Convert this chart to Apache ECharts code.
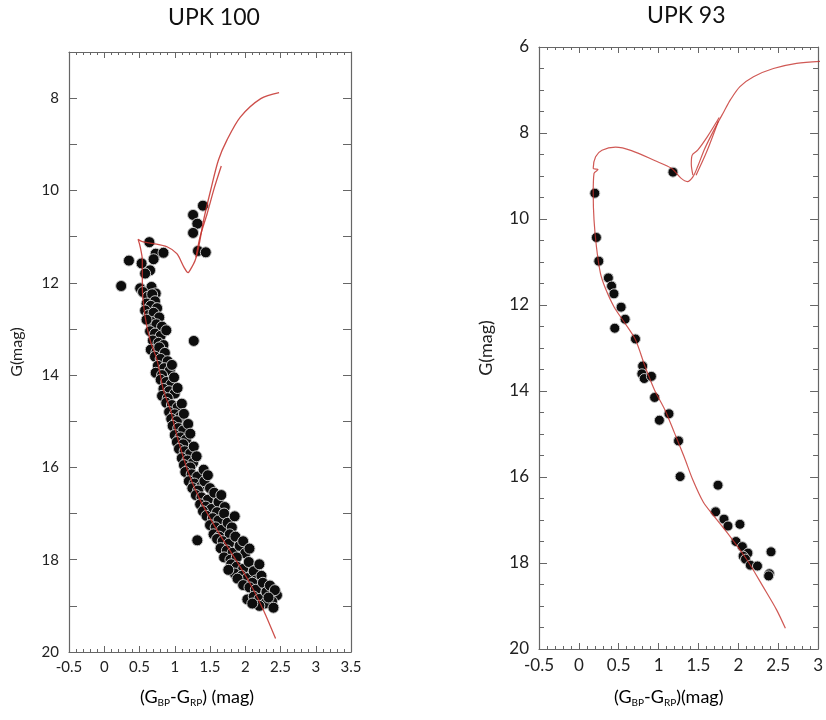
<!DOCTYPE html>
<html><head><meta charset="utf-8">
<script src="https://cdn.jsdelivr.net/npm/echarts@6/dist/echarts.min.js"></script>
<style>html,body{margin:0;padding:0;background:#fff}#c{width:826px;height:720px}</style>
</head><body><div id="c"></div>
<script>
// ---------- DATA ----------
const titles = ['UPK 100', 'UPK 93'];
const leftXTicks = [-0.5, 3.5];
const rightXTicks = [-0.5, 3];
const leftYRange = [7, 20];
const rightYRange = [6, 20];

// UPK 100 member stars [colour, G]
const upk100Stars = [
  [1.40,10.33],[1.26,10.53],[1.32,10.72],[1.26,10.92],[1.33,11.31],[1.44,11.34],
  [0.64,11.12],[0.35,11.52],[0.53,11.58],[0.73,11.37],[0.84,11.35],[0.70,11.49],
  [0.65,11.73],[0.58,11.80],[0.24,12.07],[0.51,12.12],[0.67,12.09],[0.73,12.23],
  [0.55,12.20],[0.62,12.30],[0.68,12.25],[0.72,12.40],[0.60,12.45],[0.66,12.50],[0.75,12.55],
  [0.58,12.60],[0.63,12.70],[0.70,12.65],[0.78,12.75],[0.67,12.85],[0.74,12.90],[0.82,12.95],[0.60,12.80],
  [0.65,13.05],[0.72,13.10],[0.80,13.15],[0.88,13.03],[0.69,13.25],[0.77,13.30],[0.84,13.35],[0.66,13.45],[0.74,13.50],
  [0.78,13.40],[0.86,13.52],
  [1.27,13.26],
  [0.72,13.60],[0.80,13.65],[0.90,13.70],[0.76,13.80],[0.85,13.85],[0.93,13.90],[0.73,13.95],[0.82,14.00],[0.96,13.78],
  [0.80,14.10],[0.88,14.15],[0.95,14.20],[0.84,14.30],[0.92,14.35],[1.00,14.40],[0.82,14.45],[0.90,14.50],[0.99,14.05],[1.04,14.28],
  [0.88,14.60],[0.96,14.65],[1.04,14.70],[0.92,14.80],[1.00,14.85],[1.08,14.90],[0.95,14.95],[1.03,15.00],[1.10,14.62],[1.13,14.84],
  [0.97,15.10],[1.05,15.15],[1.12,15.20],[1.00,15.30],[1.08,15.35],[1.16,15.40],[1.03,15.45],[1.12,15.50],[1.19,15.06],[1.22,15.27],
  [1.06,15.60],[1.14,15.65],[1.22,15.70],[1.10,15.80],[1.18,15.85],[1.26,15.90],[1.13,15.95],[1.22,16.00],[1.27,15.55],[1.31,15.76],
  [1.15,16.10],[1.24,16.15],[1.32,16.20],[1.20,16.30],[1.28,16.35],[1.38,16.40],[1.25,16.45],[1.33,16.50],[1.42,16.30],
  [1.41,16.05],[1.47,16.17],[1.50,16.45],
  [1.30,16.60],[1.38,16.65],[1.47,16.70],[1.56,16.55],[1.36,16.80],[1.44,16.85],[1.52,16.90],[1.62,16.75],[1.40,16.95],
  [1.66,16.60],[1.71,16.86],[1.60,16.97],
  [1.45,17.05],[1.54,17.10],[1.62,17.15],[1.70,17.00],[1.50,17.25],[1.58,17.30],[1.67,17.35],[1.75,17.20],[1.55,17.45],
  [1.81,17.30],[1.85,17.06],[1.78,17.45],[1.63,17.50],
  [1.32,17.58],
  [1.60,17.55],[1.68,17.60],[1.77,17.65],[1.86,17.50],[1.65,17.75],[1.74,17.80],[1.82,17.85],[1.92,17.70],[1.70,17.95],[1.79,18.00],
  [1.97,17.60],[2.00,17.86],[1.88,17.95],[2.06,17.76],
  [1.80,18.10],[1.88,18.15],[1.97,18.20],[2.05,18.05],[1.85,18.30],[1.95,18.35],[2.03,18.40],[2.12,18.25],[1.89,18.41],[2.15,18.45],
  [2.20,18.10],[2.23,18.35],[2.10,18.50],[1.76,18.22],
  [1.97,18.55],[2.06,18.60],[2.15,18.65],[2.25,18.50],[2.03,18.86],[2.12,18.80],[2.20,18.85],[2.30,18.70],[2.45,18.77],[2.38,18.90],
  [2.28,18.95],[2.40,19.04],[2.20,19.00],[2.35,18.56],[2.42,18.66],[2.33,18.82],[2.10,18.95]
];

// UPK 100 isochrone (main track + short branch)
const upk100Iso = [
  [2.48,7.88],[2.22,8.01],[1.93,8.41],[1.74,8.91],[1.62,9.34],[1.51,9.99],[1.41,10.64],[1.34,11.22],
  [1.29,11.51],[1.22,11.72],[1.19,11.78],[1.13,11.66],[1.03,11.37],[0.89,11.22],[0.70,11.15],[0.54,11.11],
  [0.48,11.06],[0.51,11.22],[0.54,11.51],[0.54,12.09],[0.58,12.74],[0.65,13.24],[0.75,13.68],[0.84,14.33],
  [0.94,14.76],[1.01,15.20],[1.18,16.06],[1.36,16.71],[1.60,17.36],[1.84,17.94],[2.07,18.52],[2.26,19.10],[2.43,19.71]
];
const upk100Branch = [[1.30,11.45],[1.36,11.00],[1.46,10.50],[1.56,9.95],[1.66,9.47]];

// UPK 93 member stars
const upk93Stars = [
  [1.18,8.91],[0.20,9.40],[0.22,10.43],[0.25,10.98],[0.37,11.37],[0.41,11.56],[0.44,11.74],
  [0.53,12.05],[0.58,12.33],[0.45,12.54],[0.71,12.79],[0.80,13.42],[0.79,13.60],[0.82,13.71],[0.91,13.66],
  [0.95,14.15],[1.13,14.53],[1.01,14.68],[1.25,15.16],[1.27,15.99],[1.745,16.19],[1.715,16.81],
  [1.82,16.98],[1.87,17.14],[2.02,17.10],[1.97,17.50],[2.05,17.62],[2.12,17.77],[2.06,17.84],[2.09,17.91],
  [2.15,18.05],[2.24,18.07],[2.41,17.74],[2.39,18.25],[2.38,18.30]
];

// UPK 93 isochrone
const upk93Iso = [
  [3.05,6.33],[2.73,6.38],[2.44,6.50],[2.19,6.69],[2.02,6.92],[1.90,7.23],[1.82,7.50],[1.74,7.77],
  [1.65,8.09],[1.57,8.40],[1.49,8.78],[1.43,9.02],[1.36,9.13],[1.28,9.05],[1.16,8.82],[0.95,8.64],
  [0.66,8.41],[0.46,8.33],[0.29,8.40],[0.21,8.55],[0.18,8.82],[0.24,8.85],[0.19,8.94],[0.18,9.40],
  [0.19,10.02],[0.22,10.64],[0.27,11.26],[0.33,11.60],[0.44,12.04],[0.58,12.43],[0.71,12.81],[0.83,13.43],
  [0.95,13.98],[1.08,14.44],[1.20,14.98],[1.32,15.53],[1.43,16.07],[1.56,16.58],[1.70,16.92],[1.90,17.39],
  [2.11,17.93],[2.31,18.55],[2.48,19.09],[2.59,19.52]
];
const upk93Loop = [[1.43,8.98],[1.41,8.72],[1.42,8.52],[1.49,8.40],[1.61,8.09],[1.76,7.64]];
const upk93Branch = [[1.47,8.98],[1.60,8.45],[1.75,7.72]];

// ---------- CHART ----------
const FONT = 'Lato';
const AX = '#666';
const RED = '#c4302b';
const chart = echarts.init(document.getElementById('c'), null, {renderer: 'canvas'});

function xAx(grid, range, pos, labels, fs) {
  return {
    type: 'value', gridIndex: grid, position: pos, min: range[0], max: range[1], interval: 0.5,
    axisLine: {show: true, onZero: false, lineStyle: {color: AX, width: 1.2}},
    axisTick: {show: true, inside: true, length: 6, lineStyle: {color: AX}},
    minorTick: {show: true, splitNumber: 5, length: 3, lineStyle: {color: AX}},
    splitLine: {show: false}, minorSplitLine: {show: false},
    axisLabel: {show: labels, margin: 8, fontSize: fs, color: '#222', fontFamily: FONT}
  };
}
function yAx(grid, range, pos, labels, interval, minorSplit, fs, name) {
  return {
    type: 'value', gridIndex: grid, position: pos, inverse: true, min: range[0], max: range[1], interval: interval,
    axisLine: {show: true, onZero: false, lineStyle: {color: AX, width: 1.2}},
    axisTick: {show: true, inside: true, length: 8, lineStyle: {color: AX}},
    minorTick: {show: minorSplit > 0, splitNumber: minorSplit || 5, length: 5, lineStyle: {color: AX}},
    splitLine: {show: false}, minorSplitLine: {show: false},
    axisLabel: {show: labels, margin: 10, fontSize: fs, color: '#222', fontFamily: FONT,
      formatter: v => (v % 2 === 0 ? String(v) : '')},
    name: labels ? name : '', nameLocation: 'middle', nameGap: 44, nameRotate: 90,
    nameTextStyle: {fontSize: fs + 1, color: '#222', fontFamily: FONT}
  };
}

const subRich = {
  n: {fontSize: 18, color: '#222', fontFamily: FONT, lineHeight: 26},
  s: {fontSize: 10, color: '#222', fontFamily: FONT, lineHeight: 26, padding: [12, 0, 0, 0]}
};

const option = {
  backgroundColor: '#fff',
  animation: false,
  grid: [
    {left: 69, top: 52, width: 282, height: 600, containLabel: false},
    {left: 539, top: 47, width: 283, height: 602, containLabel: false}
  ],
  xAxis: [
    xAx(0, leftXTicks, 'bottom', true, 15),
    xAx(0, leftXTicks, 'top', false, 15),
    xAx(1, rightXTicks, 'bottom', true, 17),
    xAx(1, rightXTicks, 'top', false, 17)
  ],
  yAxis: [
    yAx(0, leftYRange, 'left', true, 1, 0, 15, 'G(mag)'),
    yAx(0, leftYRange, 'right', false, 1, 0, 15, ''),
    yAx(1, rightYRange, 'left', true, 2, 4, 17, 'G(mag)'),
    yAx(1, rightYRange, 'right', false, 2, 4, 17, '')
  ],
  graphic: [
    {type: 'text', left: 210 - 42, top: 6, style: {text: titles[0], fontSize: 23, fontFamily: FONT, fill: '#111'}},
    {type: 'text', left: 681 - 34, top: 4, style: {text: titles[1], fontSize: 23, fontFamily: FONT, fill: '#111'}},
    {type: 'text', left: 140, top: 686, style: {text: '{n|(G}{s|BP}{n|-G}{s|RP}{n|) (mag)}', rich: subRich}},
    {type: 'text', left: 614, top: 686, style: {text: '{n|(G}{s|BP}{n|-G}{s|RP}{n|)(mag)}', rich: subRich}}
  ],
  series: [
    {type: 'scatter', xAxisIndex: 0, yAxisIndex: 0, data: upk100Stars, symbolSize: 11, z: 2,
      itemStyle: {color: '#0d0d0d', opacity: 1, borderColor: '#c8c8c8', borderWidth: 1}},
    {type: 'line', xAxisIndex: 0, yAxisIndex: 0, data: upk100Iso, showSymbol: false, smooth: 0.3, z: 3,
      lineStyle: {color: RED, width: 1.3, opacity: 0.85}},
    {type: 'line', xAxisIndex: 0, yAxisIndex: 0, data: upk100Branch, showSymbol: false, smooth: 0.3, z: 3,
      lineStyle: {color: RED, width: 1.3, opacity: 0.85}},
    {type: 'scatter', xAxisIndex: 2, yAxisIndex: 2, data: upk93Stars, symbolSize: 10, z: 2,
      itemStyle: {color: '#0d0d0d', opacity: 1, borderColor: '#c8c8c8', borderWidth: 1}},
    {type: 'line', xAxisIndex: 2, yAxisIndex: 2, data: upk93Iso, showSymbol: false, smooth: 0.3, z: 3,
      lineStyle: {color: RED, width: 1.2, opacity: 0.8}},
    {type: 'line', xAxisIndex: 2, yAxisIndex: 2, data: upk93Loop, showSymbol: false, smooth: 0.3, z: 3,
      lineStyle: {color: RED, width: 1.2, opacity: 0.8}},
    {type: 'line', xAxisIndex: 2, yAxisIndex: 2, data: upk93Branch, showSymbol: false, smooth: 0.3, z: 3,
      lineStyle: {color: RED, width: 1.2, opacity: 0.8}}
  ]
};
chart.setOption(option);
</script></body></html>
